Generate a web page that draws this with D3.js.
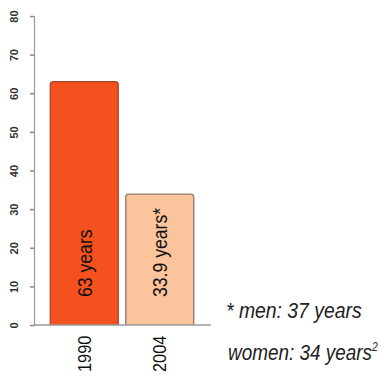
<!DOCTYPE html>
<html><head><meta charset="utf-8">
<script src="https://cdn.jsdelivr.net/npm/d3@7"></script>
<style>
body{margin:0;background:#fff;}
svg{display:block;}
</style></head>
<body>
<script>
const categories = ["1990", "2004"];
const values = [63, 33.9];
const barLabels = ["63 years", "33.9 years*"];
const tickValues = [0, 10, 20, 30, 40, 50, 60, 70, 80];
const footnotes = ["* men: 37 years", "women: 34 years"];
const fillColors = ["#f4511f", "#fcc49c"];
const strokeColors = ["#a8442a", "#8c7a6c"];

const W = 390, H = 378;
const svg = d3.select("body").append("svg").attr("width", W).attr("height", H);
const font = "'Liberation Sans',Arial,sans-serif";

const y = d3.scaleLinear().domain([0, 80]).range([325, 16]);
const x = d3.scaleBand().domain(categories).range([48, 196]).paddingInner(0.1).paddingOuter(0.03);

// axis
const ax = svg.append("g").attr("transform", "translate(34,0)")
  .call(d3.axisLeft(y).tickValues(tickValues).tickSize(4).tickFormat(d => d));
ax.select(".domain").attr("stroke", "#999").attr("stroke-width", 1.2);
ax.selectAll(".tick line").attr("stroke", "#888").attr("stroke-width", 1.5);
ax.selectAll(".tick text")
  .attr("x", null).attr("dy", null)
  .attr("transform", "translate(-20,0) rotate(-90)")
  .attr("dy", "0.35em")
  .attr("text-anchor", "middle")
  .attr("font-family", font).attr("font-weight", "bold").attr("font-size", 11).attr("fill", "#333");

// bars
const bars = svg.append("g");
categories.forEach((c, i) => {
  const x0 = x(c), w = x.bandwidth(), y0 = y(values[i]), b = y(0), r = 3;
  const p = `M${x0},${b} L${x0},${y0 + r} Q${x0},${y0} ${x0 + r},${y0} L${x0 + w - r},${y0} Q${x0 + w},${y0} ${x0 + w},${y0 + r} L${x0 + w},${b}`;
  bars.append("path").attr("d", p).attr("fill", fillColors[i])
    .attr("stroke", strokeColors[i]).attr("stroke-width", 1.3);
  bars.append("text")
    .attr("transform", `translate(${x0 + w / 2},${b - 28}) rotate(-90) scale(0.84,1)`)
    .attr("dy", "0.35em")
    .attr("font-family", font).attr("font-size", 21).attr("fill", "#111")
    .text(barLabels[i]);
  svg.append("text")
    .attr("transform", `translate(${x0 + w / 2},${b + 47}) rotate(-90) scale(0.86,1)`)
    .attr("dy", "0.35em")
    .attr("font-family", font).attr("font-size", 19).attr("fill", "#111")
    .text(c);
});

// baseline
svg.append("line").attr("x1", 34).attr("x2", 211).attr("y1", y(0)).attr("y2", y(0))
  .attr("stroke", "#999").attr("stroke-width", 1.5);

// footnotes
svg.append("text").attr("transform", "translate(226,318) scale(0.88,1)")
  .attr("font-family", font).attr("font-style", "italic").attr("font-size", 22).attr("fill", "#222")
  .text(footnotes[0]);
const t2 = svg.append("text").attr("transform", "translate(228,360) scale(0.86,1)")
  .attr("font-family", font).attr("font-style", "italic").attr("font-size", 22).attr("fill", "#222")
  .text(footnotes[1]);
t2.append("tspan").attr("font-size", 12).attr("dy", -9).text("2");
</script>
</body></html>
